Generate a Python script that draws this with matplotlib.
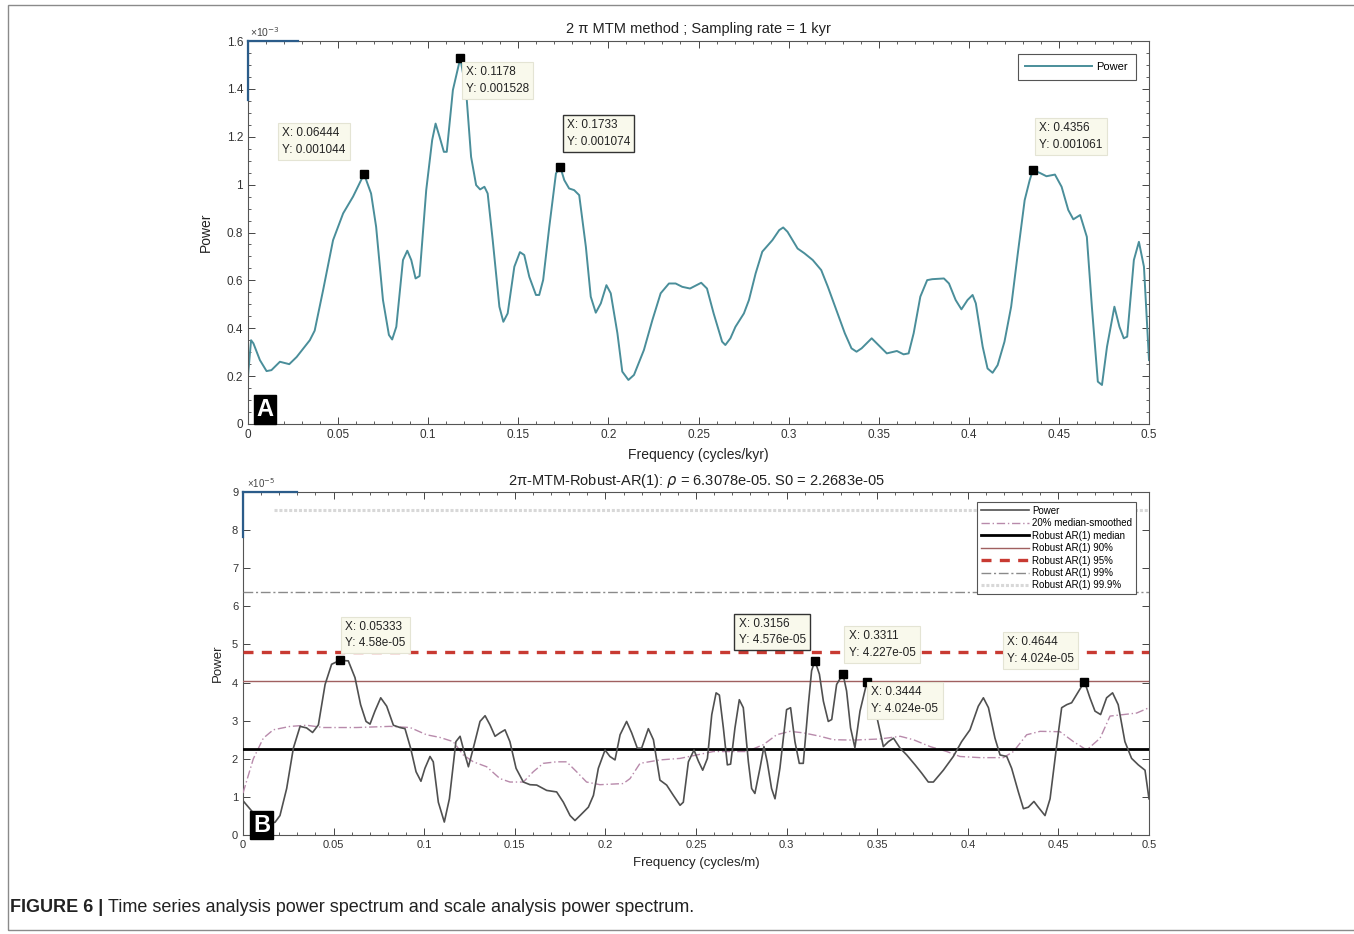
import matplotlib
matplotlib.use("Agg")
import matplotlib.pyplot as plt
from matplotlib.ticker import MultipleLocator, FuncFormatter
from matplotlib.patches import Rectangle

plt.rcParams['font.family'] = ['Liberation Sans', 'DejaVu Sans']

# --- panel A: MTM power spectrum (power in units of 1e-3)
freq_a = [0.0, 0.0017, 0.003, 0.0066, 0.0103, 0.013, 0.0177, 0.0229, 0.027, 0.0343,
          0.037, 0.0417, 0.0472, 0.0528, 0.0583, 0.0644, 0.0683, 0.0711, 0.0749, 0.0782,
          0.08, 0.0823, 0.086, 0.0884, 0.0906, 0.093, 0.0952, 0.0989, 0.1022, 0.1041,
          0.1063, 0.1087, 0.1103, 0.1137, 0.1178, 0.121, 0.1238, 0.1266, 0.1288, 0.1312,
          0.133, 0.1358, 0.1395, 0.1417, 0.1441, 0.1478, 0.1509, 0.1533, 0.1561, 0.1598,
          0.1616, 0.1638, 0.1672, 0.1709, 0.1733, 0.1755, 0.1782, 0.181, 0.1838, 0.1875,
          0.1902, 0.193, 0.1958, 0.1989, 0.2013, 0.205, 0.2077, 0.2111, 0.2142, 0.2197,
          0.2244, 0.229, 0.2336, 0.2373, 0.241, 0.2453, 0.2515, 0.2547, 0.2584, 0.2631,
          0.2649, 0.2677, 0.2705, 0.2752, 0.278, 0.2817, 0.2854, 0.291, 0.2948, 0.297,
          0.2994, 0.305, 0.3088, 0.3134, 0.3181, 0.3218, 0.3265, 0.3312, 0.3349, 0.3377,
          0.3405, 0.3461, 0.3489, 0.3545, 0.3601, 0.3638, 0.3666, 0.3694, 0.3731, 0.3769,
          0.3797, 0.3862, 0.389, 0.3927, 0.3959, 0.3993, 0.4021, 0.4039, 0.4077, 0.4104,
          0.4132, 0.416, 0.4198, 0.4235, 0.4272, 0.431, 0.4338, 0.4356, 0.4394, 0.4431,
          0.4478, 0.4515, 0.4552, 0.458, 0.4618, 0.4655, 0.4683, 0.4716, 0.4739, 0.4767,
          0.4808, 0.4836, 0.486, 0.4879, 0.4916, 0.4944, 0.4972, 0.5]
power_a = [0.20, 0.35, 0.337, 0.267, 0.221, 0.225, 0.26, 0.25, 0.28, 0.35,
           0.39, 0.56, 0.768, 0.88, 0.95, 1.044, 0.963, 0.824, 0.518, 0.372,
           0.353, 0.406, 0.685, 0.724, 0.685, 0.608, 0.618, 0.977, 1.186, 1.255,
           1.2, 1.137, 1.137, 1.395, 1.528, 1.395, 1.116, 0.998, 0.98, 0.991,
           0.963, 0.768, 0.49, 0.427, 0.462, 0.657, 0.718, 0.706, 0.615, 0.539,
           0.539, 0.602, 0.824, 1.047, 1.074, 1.019, 0.984, 0.977, 0.956, 0.74,
           0.532, 0.465, 0.504, 0.58, 0.546, 0.379, 0.219, 0.184, 0.205, 0.309,
           0.434, 0.546, 0.587, 0.587, 0.573, 0.566, 0.59, 0.566, 0.462, 0.344,
           0.33, 0.358, 0.406, 0.462, 0.518, 0.629, 0.72, 0.768, 0.81, 0.821,
           0.803, 0.733, 0.713, 0.685, 0.643, 0.573, 0.476, 0.379, 0.316, 0.302,
           0.316, 0.358, 0.337, 0.295, 0.305, 0.291, 0.295, 0.379, 0.532, 0.601,
           0.605, 0.608, 0.587, 0.518, 0.479, 0.518, 0.539, 0.504, 0.323, 0.232,
           0.214, 0.246, 0.344, 0.49, 0.713, 0.935, 1.019, 1.061, 1.049, 1.035,
           1.042, 0.991, 0.894, 0.855, 0.873, 0.782, 0.49, 0.177, 0.163, 0.323,
           0.49, 0.406, 0.358, 0.365, 0.685, 0.761, 0.657, 0.267]

tips_a_x = [0.06444, 0.1178, 0.1733, 0.4356]
tips_a_y = [1.044, 1.528, 1.074, 1.061]
tips_a_text = ["X: 0.06444\nY: 0.001044", "X: 0.1178\nY: 0.001528",
               "X: 0.1733\nY: 0.001074", "X: 0.4356\nY: 0.001061"]
tips_a_pos = [(0.019, 1.24), (0.121, 1.495), (0.177, 1.274), (0.439, 1.261)]
tips_a_dark = [False, False, True, False]

# --- panel B: robust AR(1) spectrum (power in units of 1e-5)
freq_b = [0.0, 0.008, 0.014, 0.0177, 0.0204, 0.0241, 0.0278, 0.0315, 0.0351, 0.0384,
          0.0416, 0.0453, 0.0489, 0.0533, 0.0581, 0.0618, 0.0649, 0.0679, 0.0701, 0.0728,
          0.076, 0.0793, 0.083, 0.0866, 0.0894, 0.0925, 0.0955, 0.0982, 0.1004, 0.1032,
          0.105, 0.1078, 0.1111, 0.1139, 0.1175, 0.1198, 0.122, 0.1244, 0.1271, 0.1308,
          0.1336, 0.1363, 0.1391, 0.1418, 0.1446, 0.1473, 0.1507, 0.1547, 0.1584, 0.1621,
          0.1676, 0.1731, 0.1768, 0.1805, 0.1832, 0.186, 0.1906, 0.1934, 0.1961, 0.1998,
          0.2025, 0.2053, 0.2081, 0.2117, 0.2145, 0.2176, 0.22, 0.2237, 0.2265, 0.2301,
          0.2338, 0.2375, 0.2412, 0.2430, 0.2458, 0.2489, 0.2513, 0.2537, 0.2563, 0.2587,
          0.2611, 0.2629, 0.2651, 0.2673, 0.2691, 0.2715, 0.2739, 0.2761, 0.2789, 0.2807,
          0.2825, 0.2853, 0.2875, 0.2893, 0.2917, 0.2936, 0.2963, 0.3000, 0.3022, 0.3046,
          0.3070, 0.3092, 0.3120, 0.3138, 0.3156, 0.3181, 0.3203, 0.3230, 0.3249, 0.3276,
          0.3311, 0.3331, 0.3353, 0.3377, 0.3405, 0.3444, 0.3479, 0.3507, 0.3534, 0.3562,
          0.3590, 0.3626, 0.3663, 0.3709, 0.3746, 0.3782, 0.381, 0.3865, 0.392, 0.3966,
          0.4012, 0.4058, 0.4086, 0.4114, 0.4150, 0.4178, 0.4215, 0.4242, 0.4279, 0.4307,
          0.4334, 0.4365, 0.4389, 0.4426, 0.4454, 0.4491, 0.4518, 0.4546, 0.4573, 0.4601,
          0.4644, 0.4674, 0.4702, 0.4733, 0.4766, 0.4799, 0.483, 0.4867, 0.4904, 0.4941,
          0.4978, 0.5]
power_b = [0.9, 0.45, 0.3, 0.335, 0.51, 1.22, 2.28, 2.85, 2.81, 2.69,
           2.89, 3.95, 4.48, 4.58, 4.57, 4.13, 3.42, 2.98, 2.91, 3.25,
           3.6, 3.38, 2.88, 2.82, 2.79, 2.28, 1.66, 1.41, 1.75, 2.06,
           1.92, 0.86, 0.34, 0.95, 2.45, 2.59, 2.19, 1.79, 2.28, 2.98,
           3.13, 2.89, 2.59, 2.68, 2.76, 2.45, 1.75, 1.39, 1.32, 1.31,
           1.17, 1.13, 0.86, 0.51, 0.38, 0.51, 0.73, 1.04, 1.75, 2.23,
           2.06, 1.97, 2.63, 2.98, 2.68, 2.28, 2.28, 2.79, 2.5, 1.44,
           1.31, 1.04, 0.78, 0.86, 1.92, 2.23, 1.94, 1.70, 2.01, 3.16,
           3.73, 3.67, 2.81, 1.84, 1.86, 2.81, 3.55, 3.34, 1.92, 1.22,
           1.09, 1.75, 2.32, 1.92, 1.22, 0.95, 1.75, 3.29, 3.34, 2.45,
           1.88, 1.88, 3.42, 4.31, 4.576, 4.22, 3.51, 2.98, 3.03, 3.95,
           4.227, 3.78, 2.81, 2.29, 3.25, 4.024, 3.51, 2.9, 2.32, 2.45,
           2.54, 2.28, 2.1, 1.84, 1.62, 1.39, 1.39, 1.7, 2.06, 2.45,
           2.76, 3.38, 3.6, 3.34, 2.54, 2.1, 2.06, 1.75, 1.13, 0.69,
           0.73, 0.88, 0.73, 0.51, 0.95, 2.37, 3.34, 3.42, 3.47, 3.69,
           4.024, 3.6, 3.25, 3.16, 3.6, 3.73, 3.42, 2.45, 2.01, 1.84,
           1.7, 0.95]

smooth_f = [0.0, 0.0057, 0.0112, 0.0167, 0.026, 0.0351, 0.0443, 0.0627, 0.081, 0.0922,
            0.1013, 0.1087, 0.116, 0.1216, 0.1271, 0.1345, 0.1418, 0.1473, 0.1547, 0.1602,
            0.1657, 0.173, 0.1786, 0.1841, 0.1896, 0.197, 0.2099, 0.2136, 0.2191, 0.2301,
            0.2412, 0.2596, 0.2780, 0.2872, 0.2945, 0.3019, 0.3093, 0.3185, 0.3258, 0.3369,
            0.3516, 0.3627, 0.3700, 0.3792, 0.3884, 0.3957, 0.4068, 0.4196, 0.4252, 0.4325,
            0.4399, 0.4509, 0.4583, 0.4656, 0.4730, 0.4785, 0.4859, 0.4932, 0.5]
smooth_b = [1.1, 2.0, 2.54, 2.76, 2.85, 2.88, 2.82, 2.82, 2.85, 2.82,
            2.63, 2.56, 2.45, 2.1, 1.92, 1.79, 1.48, 1.39, 1.39, 1.66,
            1.88, 1.92, 1.92, 1.66, 1.39, 1.32, 1.35, 1.48, 1.88, 1.97,
            2.01, 2.19, 2.19, 2.37, 2.63, 2.72, 2.68, 2.59, 2.5, 2.49,
            2.52, 2.59, 2.5, 2.32, 2.19, 2.06, 2.03, 2.03, 2.19, 2.63,
            2.72, 2.71, 2.45, 2.23, 2.54, 3.12, 3.16, 3.2, 3.34]

ar_median = 2.2683
ar_90 = 4.03
ar_95 = 4.79
ar_99 = 6.38
ar_999 = 8.53

tips_b_x = [0.05333, 0.3156, 0.3311, 0.3444, 0.4644]
tips_b_y = [4.58, 4.576, 4.227, 4.024, 4.024]
tips_b_text = ["X: 0.05333\nY: 4.58e-05", "X: 0.3156\nY: 4.576e-05",
               "X: 0.3311\nY: 4.227e-05", "X: 0.3444\nY: 4.024e-05",
               "X: 0.4644\nY: 4.024e-05"]
tips_b_pos = [(0.0565, 5.62), (0.2735, 5.70), (0.3342, 5.37), (0.3468, 3.90), (0.4218, 5.22)]
tips_b_dark = [False, True, False, False, False]

fig = plt.figure(figsize=(13.54, 9.34), dpi=100)
ax1 = fig.add_axes([248 / 1354, 1 - 424 / 934, 901 / 1354, 383 / 934])
ax2 = fig.add_axes([243 / 1354, 1 - 835 / 934, 906 / 1354, 343 / 934])

gfmt = FuncFormatter(lambda v, p: f"{v:g}")


def style_axes(ax):
    for s in ax.spines.values():
        s.set_color('#555555')
        s.set_linewidth(0.8)
    ax.tick_params(which='both', direction='in', top=True, right=True,
                   colors='#444444', labelcolor='#333333', labelsize=8.5)
    ax.tick_params(which='major', length=5, width=0.7)
    ax.tick_params(which='minor', length=2.5, width=0.6)
    ax.xaxis.set_major_locator(MultipleLocator(0.05))
    ax.xaxis.set_minor_locator(MultipleLocator(0.01))
    ax.xaxis.set_major_formatter(gfmt)
    ax.yaxis.set_major_formatter(gfmt)


def add_tips(ax, xs, ys, texts, pos, dark):
    ax.plot(xs, ys, 's', color='black', markersize=6, zorder=6)
    for t, (tx, ty), d in zip(texts, pos, dark):
        ax.text(tx, ty, t, ha='left', va='top', fontsize=8.5, color='#222222',
                linespacing=1.5, zorder=7,
                bbox=dict(boxstyle='square,pad=0.35', facecolor='#f9f9ec',
                          edgecolor='#333333' if d else '#e4e4d4',
                          linewidth=1.0 if d else 0.8))


# panel A
ax1.plot(freq_a, power_a, color='#4a8e9a', linewidth=1.4, label='Power')
ax1.set_xlim(0, 0.5)
ax1.set_ylim(0, 1.6)
style_axes(ax1)
ax1.yaxis.set_major_locator(MultipleLocator(0.2))
ax1.yaxis.set_minor_locator(MultipleLocator(0.05))
ax1.set_title("2 \u03c0 MTM method ; Sampling rate = 1 kyr", fontsize=10.5,
              color='#222222', pad=6)
ax1.set_xlabel("Frequency (cycles/kyr)", fontsize=10, color='#222222', labelpad=5)
ax1.set_ylabel("Power", fontsize=10, color='#222222', labelpad=10)
ax1.text(0.002, 1.005, "\u00d710$^{-3}$", transform=ax1.transAxes, fontsize=7.5,
         color='#444444', ha='left', va='bottom')
ax1.plot([0, 0.055], [1, 1], transform=ax1.transAxes, color='#2b5c8a', lw=1.6,
         clip_on=False, zorder=8)
ax1.plot([0, 0], [1, 0.845], transform=ax1.transAxes, color='#2b5c8a', lw=1.6,
         clip_on=False, zorder=8)
add_tips(ax1, tips_a_x, tips_a_y, tips_a_text, tips_a_pos, tips_a_dark)
leg1 = ax1.legend(loc='upper right', bbox_to_anchor=(1 - 13 / 901, 1 - 13 / 383),
                  borderaxespad=0, fontsize=8, handlelength=6, borderpad=0.7,
                  handletextpad=0.4, fancybox=False, edgecolor='#555555', framealpha=1)
leg1.get_frame().set_linewidth(0.8)
ax1.text(0.019, 0.038, "A", transform=ax1.transAxes, ha='center', va='center',
         fontsize=17, fontweight='bold', color='white', zorder=9,
         bbox=dict(boxstyle='square,pad=0.12', facecolor='black', edgecolor='black'))

# panel B
ax2.plot(freq_b, power_b, color='#505050', linewidth=1.2, label='Power', zorder=4)
ax2.plot(smooth_f, smooth_b, color='#b88aab', linewidth=1.0, linestyle=(0, (6, 2, 1, 2)),
         label='20% median-smoothed', zorder=3)
ax2.axhline(ar_median, color='black', linewidth=2.0, label='Robust AR(1) median', zorder=3)
ax2.axhline(ar_90, color='#a06060', linewidth=1.0, label='Robust AR(1) 90%', zorder=3)
ax2.axhline(ar_95, color='#c83a32', linewidth=2.4, linestyle=(0, (3, 2.5)),
            label='Robust AR(1) 95%', zorder=3)
ax2.axhline(ar_99, color='#8a8a8a', linewidth=1.0, linestyle=(0, (7, 2, 1.5, 2)),
            label='Robust AR(1) 99%', zorder=3)
ax2.plot([0.017, 0.5], [ar_999, ar_999], color='#d8d8d8', linewidth=2.2,
         linestyle=(0, (1, 0.6)), label='Robust AR(1) 99.9%', zorder=2)
ax2.set_xlim(0, 0.5)
ax2.set_ylim(0, 9)
style_axes(ax2)
ax2.yaxis.set_major_locator(MultipleLocator(1))
ax2.tick_params(labelsize=8)
ax2.set_title("2\u03c0-MTM-Robust-AR(1): $\\rho$ = 6.3078e-05. S0 = 2.2683e-05",
              fontsize=10.5, color='#222222', pad=5)
ax2.set_xlabel("Frequency (cycles/m)", fontsize=9.5, color='#222222', labelpad=5)
ax2.set_ylabel("Power", fontsize=9.5, color='#222222', labelpad=6)
ax2.text(0.004, 1.005, "\u00d710$^{-5}$", transform=ax2.transAxes, fontsize=7,
         color='#444444', ha='left', va='bottom')
ax2.plot([0, 0.06], [1, 1], transform=ax2.transAxes, color='#2b5c8a', lw=1.6,
         clip_on=False, zorder=8)
ax2.plot([0, 0], [1, 0.87], transform=ax2.transAxes, color='#2b5c8a', lw=1.6,
         clip_on=False, zorder=8)
add_tips(ax2, tips_b_x, tips_b_y, tips_b_text, tips_b_pos, tips_b_dark)
leg2 = ax2.legend(loc='upper right', bbox_to_anchor=(1 - 13 / 906, 1 - 10 / 343),
                  borderaxespad=0, fontsize=7, handlelength=5, labelspacing=0.25,
                  borderpad=0.4, handletextpad=0.3, fancybox=False,
                  edgecolor='#555555', framealpha=1)
leg2.get_frame().set_linewidth(0.8)
ax2.text(0.0204, 0.029, "B", transform=ax2.transAxes, ha='center', va='center',
         fontsize=17, fontweight='bold', color='white', zorder=9,
         bbox=dict(boxstyle='square,pad=0.12', facecolor='black', edgecolor='black'))

# outer frame and caption
fig.patches.append(Rectangle((8 / 1354, 4 / 934), 1.2, 1 - 9 / 934, transform=fig.transFigure,
                             fill=False, edgecolor='#8a8a8a', linewidth=1.0))
cap1 = fig.text(10 / 1354, 1 - 907 / 934, "FIGURE 6 |", fontsize=13, fontweight='bold',
                ha='left', va='center', color='#222222')
fig.canvas.draw()
bb = cap1.get_window_extent()
fig.text((bb.x1 + 5) / 1354, 1 - 907 / 934,
         "Time series analysis power spectrum and scale analysis power spectrum.",
         fontsize=13, ha='left', va='center', color='#222222')

fig.savefig("out.png", dpi=100)
